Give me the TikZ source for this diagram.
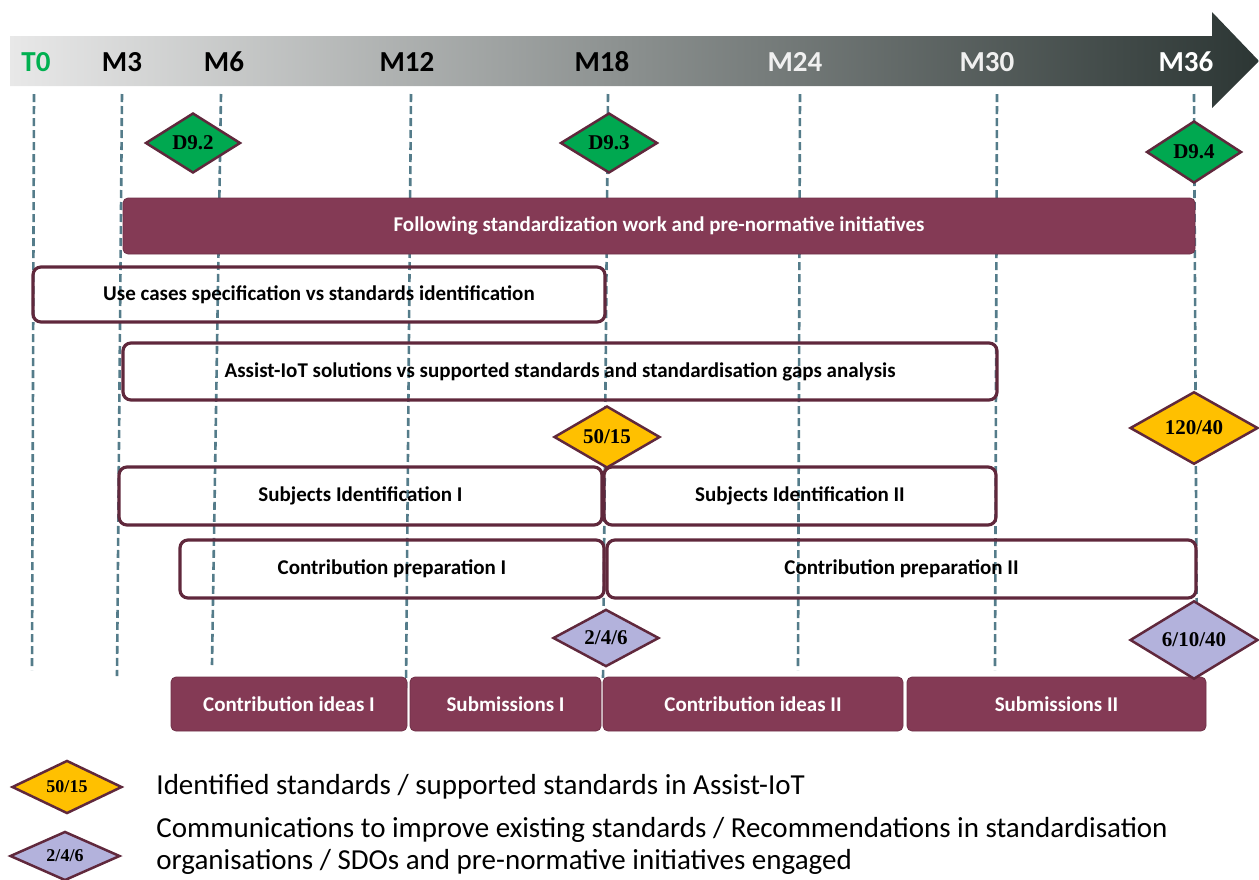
\documentclass[tikz,border=0pt]{standalone}
\usepackage{fontspec}
\setmainfont{Carlito}
\newfontfamily\serifnum{Liberation Serif}
\usetikzlibrary{positioning,shapes.geometric}
\definecolor{wpmaroon}{RGB}{132,58,85}
\definecolor{wpborder}{RGB}{96,40,60}
\definecolor{wpgreen}{RGB}{0,168,80}
\definecolor{wpyellow}{RGB}{255,192,0}
\definecolor{wplilac}{RGB}{179,178,220}
\definecolor{wpgrid}{RGB}{84,124,138}
\definecolor{wpdark}{RGB}{44,54,52}
\definecolor{tzero}{RGB}{0,176,80}

\tikzset{
  task/.style={draw=wpborder, line width=3.2pt, rounded corners=8pt, inner sep=0pt,
    font=\fontsize{21}{24}\selectfont\bfseries},
  workbar/.style={fill=wpmaroon, draw=wpmaroon!85!black, line width=0.8pt, rounded corners=5pt,
    text=white, inner sep=0pt, font=\fontsize{21}{24}\selectfont\bfseries},
  mile/.style={diamond, draw=wpborder, line width=2.5pt, inner sep=0pt,
    font=\fontsize{21}{22}\selectfont\serifnum\bfseries},
  gridline/.style={wpgrid, line width=2.6pt, dash pattern=on 8pt off 4pt},
  month/.style={font=\fontsize{29}{30}\selectfont\bfseries},
  legendtext/.style={inner sep=0pt, align=left, font=\fontsize{29}{32}\selectfont}
}

\begin{document}
\begin{tikzpicture}[x=1pt, y=-1pt]
\useasboundingbox (0,0) rectangle (1259,879);

% time arrow
\shade[left color=black!9, middle color=black!30, right color=wpdark]
  (10,36) -- (1212,36) -- (1212,12) -- (1259,61) -- (1212,108) -- (1212,86) -- (10,86) -- cycle;
\node[month, text=tzero] (mT0) at (36,62) {T0};
\node[month] (mM3) at (122,62) {M3};
\node[month] (mM6) at (224,62) {M6};
\node[month] (mM12) at (407,62) {M12};
\node[month] (mM18) at (602,62) {M18};
\node[month, text=white!94!black] (mM24) at (795,62) {M24};
\node[month, text=white!94!black] (mM30) at (987,62) {M30};
\node[month, text=white] (mM36) at (1186,62) {M36};

% month grid lines
\foreach \m/\xt/\xb/\yb in {T0/34/32/670, M3/122/117/676, M6/221/212/665, M12/411/406/688,
    M18/608/603/680, M24/800/798/670, M30/997/995/670, M36/1194/1197/680} {
  \coordinate (\m top) at (\xt,94);
  \coordinate (\m bot) at (\xb,\yb);
  \draw[gridline] (\m top) -- (\m bot);
}

% tasks
\node[workbar, minimum width=1072pt, minimum height=56pt] (follow) at (659,226)
  {Following standardization work and pre-normative initiatives};
\node[task, minimum width=572pt, minimum height=55pt] (usecases) at (319,294.5)
  {Use cases specification vs standards identification};
\node[task, minimum width=874pt, minimum height=57pt] (assist) at (560,371.5)
  {Assist-IoT solutions vs supported standards and standardisation gaps analysis};
\node[task, minimum width=483pt, minimum height=58pt] (subjI) at (360.5,496)
  {Subjects Identification I};
\node[task, minimum width=392pt, minimum height=58pt] (subjII) at (800,496)
  {Subjects Identification II};
\node[task, minimum width=424pt, minimum height=58pt] (prepI) at (392,569)
  {Contribution preparation I};
\node[task, minimum width=589pt, minimum height=58pt] (prepII) at (901.5,569)
  {Contribution preparation II};

% contribution phases
\node[workbar, minimum width=236pt, minimum height=54pt] (ideasI) at (289,704) {Contribution ideas I};
\node[workbar, minimum width=191pt, minimum height=54pt] (subI) at (505.5,704) {Submissions I};
\node[workbar, minimum width=300pt, minimum height=54pt] (ideasII) at (753,704) {Contribution ideas II};
\node[workbar, minimum width=299pt, minimum height=54pt] (subII) at (1056.5,704) {Submissions II};

% milestones
\node[mile, fill=wpgreen, minimum width=95pt, minimum height=60pt] (d92) at (193,143) {D9.2};
\node[mile, fill=wpgreen, minimum width=97pt, minimum height=60pt] (d93) at (609,143) {D9.3};
\node[mile, fill=wpgreen, minimum width=95pt, minimum height=62pt] (d94) at (1194,152) {D9.4};
\node[mile, fill=wpyellow, minimum width=106pt, minimum height=52pt] (s50) at (607,437) {50/15};
\node[mile, fill=wpyellow, minimum width=128pt, minimum height=52pt] (s120) at (1194,428) {120/40};
\node[mile, fill=wplilac, minimum width=106pt, minimum height=52pt] (c246) at (606,638) {2/4/6};
\node[mile, fill=wplilac, minimum width=128pt, minimum height=60pt] (c61040) at (1194,640) {6/10/40};

% legend
\node[mile, fill=wpyellow, minimum width=110pt, minimum height=48pt,
  font=\fontsize{18}{20}\selectfont\serifnum\bfseries] (key50) at (67,787) {50/15};
\node[legendtext, right=33pt of key50] (key50txt)
  {Identified standards / supported standards in Assist-IoT};
\node[mile, fill=wplilac, minimum width=110pt, minimum height=48pt,
  font=\fontsize{18}{20}\selectfont\serifnum\bfseries] (key246) at (65,856) {2/4/6};
\node[legendtext, right=35pt of key246, yshift=10pt] (key246txt)
  {Communications to improve existing standards / Recommendations in standardisation\\
   organisations / SDOs and pre-normative initiatives engaged};
\end{tikzpicture}
\end{document}
